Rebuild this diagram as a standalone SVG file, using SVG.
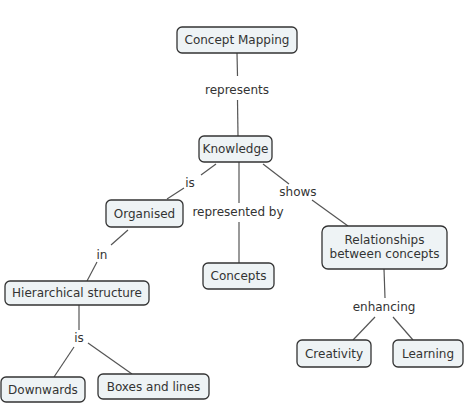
<svg xmlns="http://www.w3.org/2000/svg" width="464" height="420" viewBox="0 0 464 420">
<style>
.n rect{fill:#eef3f5;stroke:#333;stroke-width:1.3}
text{font-family:"DejaVu Sans",Verdana,sans-serif;font-size:12px;fill:#333;text-anchor:middle}
.c line{stroke:#555;stroke-width:1.2}
</style>
<rect width="464" height="420" fill="#fff"/>
<g class="c" id="connectors">
<line x1="237" y1="53" x2="237.5" y2="76"/>
<line x1="237.5" y1="100" x2="238" y2="136"/>
<text x="237" y="94">represents</text>
<line x1="216" y1="164" x2="201" y2="175"/>
<line x1="184" y1="188" x2="167" y2="199"/>
<text x="190" y="187">is</text>
<line x1="239" y1="162" x2="239" y2="203"/>
<line x1="239" y1="222" x2="239" y2="263"/>
<text x="238" y="216">represented by</text>
<line x1="263" y1="164" x2="289" y2="184"/>
<line x1="312" y1="200" x2="348" y2="226"/>
<text x="298" y="196">shows</text>
<line x1="128" y1="230" x2="111" y2="245"/>
<line x1="97" y1="262" x2="87" y2="281"/>
<text x="102" y="259">in</text>
<line x1="79" y1="305" x2="79" y2="330"/>
<line x1="74" y1="347" x2="54" y2="377"/>
<line x1="88" y1="343" x2="132" y2="374"/>
<text x="79" y="342">is</text>
<line x1="384" y1="269" x2="385" y2="298"/>
<line x1="375" y1="317" x2="353" y2="340"/>
<line x1="393" y1="317" x2="413" y2="340"/>
<text x="384" y="311">enhancing</text>
</g>
<g class="n" id="concept-mapping"><rect x="177" y="27" width="120" height="26" rx="5"/><text x="237" y="44">Concept Mapping</text></g>
<g class="n" id="knowledge"><rect x="199" y="136" width="73" height="26" rx="5"/><text x="235.5" y="153">Knowledge</text></g>
<g class="n" id="organised"><rect x="106" y="200" width="77" height="27" rx="5"/><text x="144.5" y="218">Organised</text></g>
<g class="n" id="hierarchical"><rect x="5" y="281" width="144" height="24" rx="5"/><text x="77" y="297">Hierarchical structure</text></g>
<g class="n" id="downwards"><rect x="1" y="377" width="84" height="25" rx="5"/><text x="43" y="394">Downwards</text></g>
<g class="n" id="boxes"><rect x="98" y="374" width="111" height="25" rx="5"/><text x="153.5" y="391">Boxes and lines</text></g>
<g class="n" id="concepts"><rect x="203" y="263" width="71" height="26" rx="5"/><text x="238.5" y="280">Concepts</text></g>
<g class="n" id="relationships"><rect x="322" y="226" width="125" height="43" rx="6"/><text x="384.5" y="244">Relationships</text><text x="384.5" y="258">between concepts</text></g>
<g class="n" id="creativity"><rect x="297" y="340" width="74" height="27" rx="5"/><text x="334" y="358">Creativity</text></g>
<g class="n" id="learning"><rect x="393" y="340" width="70" height="27" rx="5"/><text x="428" y="358">Learning</text></g>
</svg>
